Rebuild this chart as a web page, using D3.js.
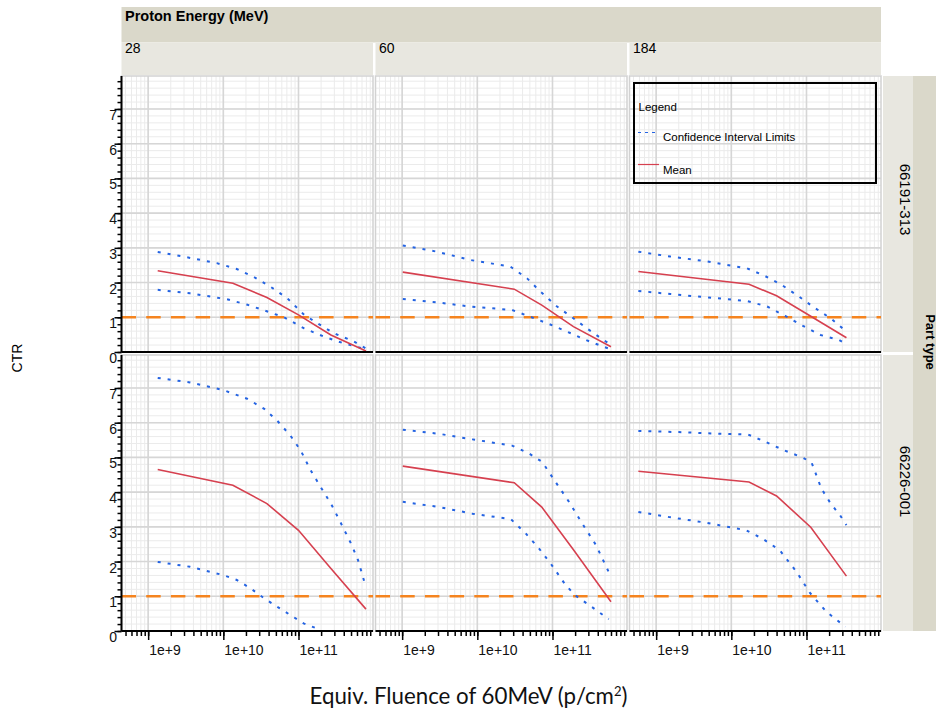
<!DOCTYPE html>
<html lang="en">
<head>
<meta charset="UTF-8">
<title>CTR vs equivalent fluence</title>
<script src="https://d3js.org/d3.v7.min.js"></script>
<style>
  body { margin: 0; background: #fff; }
  svg { font-family: "Liberation Sans", Arial, sans-serif; }
</style>
</head>
<body>
<svg width="936" height="715"></svg>
<script>
// facet labels
const energies = ["28", "60", "184"];
const partTypes = ["66191-313", "66226-001"];
const xTickValues = [1e9, 1e10, 1e11];
const xTickLabels = ["1e+9", "1e+10", "1e+11"];
const yTickLabels = ["0", "1", "2", "3", "4", "5", "6", "7"];
const threshold = 1;

// [fluence, CTR] per part type (row) and energy (column)
const meanCurves = [
  [
    [[1.34e9, 2.34], [1.34e10, 1.98], [3.8e10, 1.57], [1.0e11, 1.07], [2.7e11, 0.49], [7.9e11, 0.03]],
    [[1.02e9, 2.30], [3.1e10, 1.81], [7.2e10, 1.35], [1.9e11, 0.73], [6.0e11, 0.15]],
    [[5.8e8, 2.32], [1.72e10, 1.95], [4.0e10, 1.62], [1.14e11, 1.03], [3.4e11, 0.41]]
  ],
  [
    [[1.34e9, 4.65], [1.34e10, 4.20], [3.8e10, 3.67], [1.0e11, 2.90], [2.7e11, 1.80], [7.9e11, 0.63]],
    [[1.02e9, 4.75], [3.1e10, 4.27], [7.2e10, 3.57], [1.9e11, 2.34], [6.0e11, 0.84]],
    [[5.8e8, 4.60], [1.72e10, 4.29], [4.0e10, 3.89], [1.14e11, 2.99], [3.4e11, 1.58]]
  ]
];

const upperCurves = [
  [
    [[1.34e9, 2.88], [3.26e9, 2.73], [8.2e9, 2.56], [1.51e10, 2.39], [2.51e10, 2.17], [4.24e10, 1.88],
     [7.08e10, 1.55], [1.19e11, 1.07], [1.78e11, 0.83], [2.95e11, 0.54], [5.5e11, 0.30], [7.9e11, 0.10]],
    [[1.02e9, 3.07], [2.9e9, 2.89], [8.1e9, 2.65], [2.75e10, 2.46], [4.6e10, 2.12], [6.9e10, 1.74],
     [1.15e11, 1.31], [1.82e11, 1.00], [3.0e11, 0.65], [4.9e11, 0.33], [6.0e11, 0.22]],
    [[5.8e8, 2.89], [1.54e9, 2.75], [4.7e9, 2.61], [1.62e10, 2.41], [2.8e10, 2.19], [4.7e10, 1.93],
     [7.9e10, 1.60], [1.25e11, 1.29], [2.1e11, 0.97], [3.4e11, 0.59]]
  ],
  [
    [[1.34e9, 7.29], [3.6e9, 7.16], [1.0e10, 6.94], [2.07e10, 6.69], [3.5e10, 6.40], [5.2e10, 6.06],
     [7.8e10, 5.63], [1.07e11, 5.20], [1.45e11, 4.63], [1.97e11, 4.15], [2.7e11, 3.67], [3.6e11, 3.14],
     [5.0e11, 2.52], [6.2e11, 2.04], [7.9e11, 1.26]],
    [[1.02e9, 5.80], [3.1e9, 5.68], [8.6e9, 5.52], [2.9e10, 5.34], [4.9e10, 5.11], [7.3e10, 4.87],
     [1.1e11, 4.29], [1.66e11, 3.72], [2.5e11, 3.09], [3.8e11, 2.47], [6.0e11, 1.56]],
    [[5.8e8, 5.76], [2.0e9, 5.73], [7.0e9, 5.68], [1.67e10, 5.66], [2.9e10, 5.44], [5.1e10, 5.20],
     [9.0e10, 4.99], [1.17e11, 4.85], [1.58e11, 4.10], [2.1e11, 3.67], [2.8e11, 3.33], [3.4e11, 3.05]]
  ]
];

const lowerCurves = [
  [
    [[1.34e9, 1.79], [3.6e9, 1.69], [1.12e10, 1.52], [2.1e10, 1.36], [3.6e10, 1.19], [6.4e10, 1.00],
     [1.19e11, 0.68], [2.2e11, 0.44], [4.0e11, 0.25], [7.9e11, 0.08]],
    [[1.02e9, 1.53], [2.9e9, 1.43], [8.1e9, 1.31], [2.9e10, 1.21], [5.0e10, 1.02], [8.9e10, 0.81],
     [1.55e11, 0.59], [2.75e11, 0.35], [4.8e11, 0.15], [6.0e11, 0.08]],
    [[5.8e8, 1.76], [1.54e9, 1.67], [5.0e9, 1.57], [1.62e10, 1.47], [3.0e10, 1.31], [5.2e10, 1.04],
     [9.0e10, 0.75], [1.54e11, 0.49], [2.7e11, 0.35], [3.4e11, 0.23]]
  ],
  [
    [[1.34e9, 1.99], [3.6e9, 1.85], [1.0e10, 1.61], [1.51e10, 1.47], [2.3e10, 1.23], [3.5e10, 0.94],
     [5.2e10, 0.70], [7.8e10, 0.46], [1.17e11, 0.22], [1.97e11, 0.03]],
    [[1.02e9, 3.72], [3.1e9, 3.57], [8.6e9, 3.38], [2.8e10, 3.22], [4.4e10, 2.81], [6.6e10, 2.38],
     [9.4e10, 1.95], [1.5e11, 1.32], [2.0e11, 1.03], [3.4e11, 0.68], [5.6e11, 0.34]],
    [[5.8e8, 3.43], [1.5e9, 3.28], [4.6e9, 3.12], [1.58e10, 2.90], [2.6e10, 2.66], [4.4e10, 2.33],
     [7.4e10, 1.70], [1.1e11, 1.11], [1.85e11, 0.55], [3.3e11, 0.12]]
  ]
];

// layout
const marge = {left: 121.5, top: 76};
const panelW = 251.5, panelH = 276;
const colStep = 254, rowStep = 279;
const stripDark = "#dad8ca", stripLight = "#e8e7e0";
const meanColor = "#d6404f", ciColor = "#2463e2", refColor = "#f5841f";

const svg = d3.select("svg");

const x = d3.scaleLog().domain([4.42e8, 9.8e11]).range([0, panelW]);
const y = d3.scaleLinear().domain([0, 7.95]).range([panelH, 0]);

// minor positions: 1..9 of each decade, 0.2 steps on y
const xMinor = d3.range(8, 12)
    .flatMap(k => d3.range(1, 10).map(m => m * Math.pow(10, k)))
    .filter(v => v >= x.domain()[0] && v <= x.domain()[1]);
const yMajor = yTickLabels.map(Number);
const yMinor = d3.range(0, 40).map(i => +(i * 0.2).toFixed(1)).filter(v => v <= 7.9);

const line = d3.line().x(d => x(d[0])).y(d => y(d[1]));

/* header strips */
svg.append("rect")
    .attr("x", marge.left).attr("y", 7)
    .attr("width", colStep * 2 + panelW).attr("height", 35.5)
    .attr("fill", stripDark);
svg.append("text")
    .attr("x", 125).attr("y", 20.5)
    .attr("font-size", 14.5).attr("font-weight", "bold")
    .text("Proton Energy (MeV)");

energies.forEach((e, c) => {
  const cx = marge.left + c * colStep;
  svg.append("rect")
      .attr("x", cx).attr("y", 43)
      .attr("width", panelW).attr("height", 32)
      .attr("fill", stripLight);
  svg.append("text")
      .attr("x", cx + 3.5).attr("y", 52.5)
      .attr("font-size", 14)
      .text(e);
});

/* right strips */
svg.append("rect")
    .attr("x", 913).attr("y", marge.top)
    .attr("width", 30).attr("height", rowStep + panelH)
    .attr("fill", stripDark);
svg.append("text")
    .attr("transform", "translate(926," + 342 + ") rotate(90)")
    .attr("text-anchor", "middle")
    .attr("font-size", 13).attr("font-weight", "bold")
    .text("Part type");

const rowLabelY = [199.5, 481.5];
partTypes.forEach((p, r) => {
  svg.append("rect")
      .attr("x", 883).attr("y", marge.top + r * rowStep)
      .attr("width", 30).attr("height", panelH)
      .attr("fill", stripLight);
  svg.append("text")
      .attr("transform", "translate(900," + rowLabelY[r] + ") rotate(90)")
      .attr("text-anchor", "middle")
      .attr("font-size", 15)
      .text(p);
});

/* panels */
partTypes.forEach((p, r) => {
  energies.forEach((e, c) => {
    const g = svg.append("g")
        .attr("transform", "translate(" + (marge.left + c * colStep) + "," + (marge.top + r * rowStep) + ")");
    const clipId = "clip-" + r + "-" + c;
    g.append("clipPath").attr("id", clipId)
      .append("rect").attr("width", panelW).attr("height", panelH);

    g.append("rect")
        .attr("width", panelW).attr("height", panelH)
        .attr("fill", "#fff");

    // minor grid
    g.selectAll(".vminor").data(xMinor).enter().append("line")
        .attr("x1", d => x(d)).attr("x2", d => x(d))
        .attr("y1", 0).attr("y2", panelH)
        .attr("stroke", "#ebebeb").attr("stroke-width", 1);
    g.selectAll(".hminor").data(yMinor).enter().append("line")
        .attr("x1", 0).attr("x2", panelW)
        .attr("y1", d => y(d)).attr("y2", d => y(d))
        .attr("stroke", "#ebebeb").attr("stroke-width", 1);
    // major grid
    g.selectAll(".vmajor").data(xTickValues).enter().append("line")
        .attr("x1", d => x(d)).attr("x2", d => x(d))
        .attr("y1", 0).attr("y2", panelH)
        .attr("stroke", "#d6d6d6").attr("stroke-width", 1.6);
    g.selectAll(".hmajor").data(yMajor).enter().append("line")
        .attr("x1", 0).attr("x2", panelW)
        .attr("y1", d => y(d)).attr("y2", d => y(d))
        .attr("stroke", "#d6d6d6").attr("stroke-width", 1.6);

    g.append("rect")
        .attr("width", panelW).attr("height", panelH)
        .attr("fill", "none")
        .attr("stroke", "#d2d2d2").attr("stroke-width", 1.5);

    // reference line
    g.append("line")
        .attr("x1", 0).attr("x2", panelW)
        .attr("y1", y(threshold)).attr("y2", y(threshold))
        .attr("stroke", refColor).attr("stroke-width", 2.4)
        .attr("stroke-dasharray", "14.5,10.2");

    const curves = g.append("g").attr("clip-path", "url(#" + clipId + ")");
    [upperCurves[r][c], lowerCurves[r][c]].forEach(ci => {
      curves.append("path")
          .datum(ci)
          .attr("d", line)
          .attr("fill", "none")
          .attr("stroke", ciColor).attr("stroke-width", 2)
          .attr("stroke-dasharray", "3,7");
    });
    curves.append("path")
        .datum(meanCurves[r][c])
        .attr("d", line)
        .attr("fill", "none")
        .attr("stroke", meanColor).attr("stroke-width", 1.6);

    // x axis
    if (r === partTypes.length - 1) {
      const minorAxis = g.append("g")
          .attr("transform", "translate(0," + panelH + ")")
          .call(d3.axisBottom(x).tickValues(xMinor).tickFormat("").tickSize(5).tickSizeOuter(0));
      minorAxis.select(".domain").remove();
      minorAxis.selectAll("line").attr("stroke-width", 1.5);
      const majorAxis = g.append("g")
          .attr("transform", "translate(0," + panelH + ")")
          .call(d3.axisBottom(x).tickValues(xTickValues)
              .tickFormat((d, i) => xTickLabels[i]).tickSize(9).tickSizeOuter(0));
      majorAxis.select(".domain").remove();
      majorAxis.selectAll("line").attr("stroke-width", 1.5);
      majorAxis.selectAll("text")
          .attr("text-anchor", "start")
          .attr("x", 0.5).attr("y", 14)
          .attr("font-size", 14)
          .attr("font-family", "Liberation Sans, Arial, sans-serif")
          .attr("fill", "#111");
    }
    g.append("line")
        .attr("x1", 0).attr("x2", panelW)
        .attr("y1", panelH).attr("y2", panelH)
        .attr("stroke", "#000").attr("stroke-width", 2);

    // y axis
    if (c === 0) {
      const yMinorAxis = g.append("g")
          .call(d3.axisLeft(y).tickValues(yMinor).tickFormat("").tickSize(4).tickSizeOuter(0));
      yMinorAxis.select(".domain").remove();
      yMinorAxis.selectAll("line").attr("stroke-width", 1.5);
      const yMajorAxis = g.append("g")
          .call(d3.axisLeft(y).tickValues(yMajor)
              .tickFormat((d, i) => yTickLabels[i]).tickSize(7).tickSizeOuter(0));
      yMajorAxis.select(".domain").remove();
      yMajorAxis.selectAll("line").attr("stroke-width", 1.5);
      yMajorAxis.selectAll("text")
          .attr("x", -4.5).attr("dy", "0.75em")
          .attr("font-size", 14)
          .attr("font-family", "Liberation Sans, Arial, sans-serif")
          .attr("fill", "#111");
      g.append("line")
          .attr("x1", 0).attr("x2", 0)
          .attr("y1", 0).attr("y2", panelH)
          .attr("stroke", "#000").attr("stroke-width", 2);
    }
  });
});

/* legend */
const lg = svg.append("g").attr("transform", "translate(634,83)");
lg.append("rect")
    .attr("width", 242).attr("height", 100)
    .attr("fill", "none")
    .attr("stroke", "#000").attr("stroke-width", 2);
lg.append("text").attr("x", 4.5).attr("y", 28).attr("font-size", 11.5).text("Legend");
lg.append("line")
    .attr("x1", 4).attr("x2", 24).attr("y1", 49.5).attr("y2", 49.5)
    .attr("stroke", ciColor).attr("stroke-width", 1.2)
    .attr("stroke-dasharray", "3,4");
lg.append("text").attr("x", 29).attr("y", 58).attr("font-size", 11.5).text("Confidence Interval Limits");
lg.append("line")
    .attr("x1", 4).attr("x2", 25).attr("y1", 81.5).attr("y2", 81.5)
    .attr("stroke", meanColor).attr("stroke-width", 1.2);
lg.append("text").attr("x", 29).attr("y", 91).attr("font-size", 11.5).text("Mean");

/* axis titles */
svg.append("text")
    .attr("transform", "translate(22,358) rotate(-90)")
    .attr("text-anchor", "middle")
    .attr("font-size", 14)
    .text("CTR");

const title = svg.append("text")
    .attr("x", 468.5).attr("y", 704)
    .attr("text-anchor", "middle")
    .attr("font-family", "Lato, 'Open Sans', sans-serif")
    .attr("font-size", 20)
    .attr("fill", "#111");
title.append("tspan").text("Equiv. Fluence of 60MeV (p/cm");
title.append("tspan").attr("font-size", 13).attr("dy", -8).text("2");
title.append("tspan").attr("dy", 8).text(")");
const tw = title.node().getComputedTextLength();
title.attr("font-size", 20 * 319 / tw);
</script>
</body>
</html>
